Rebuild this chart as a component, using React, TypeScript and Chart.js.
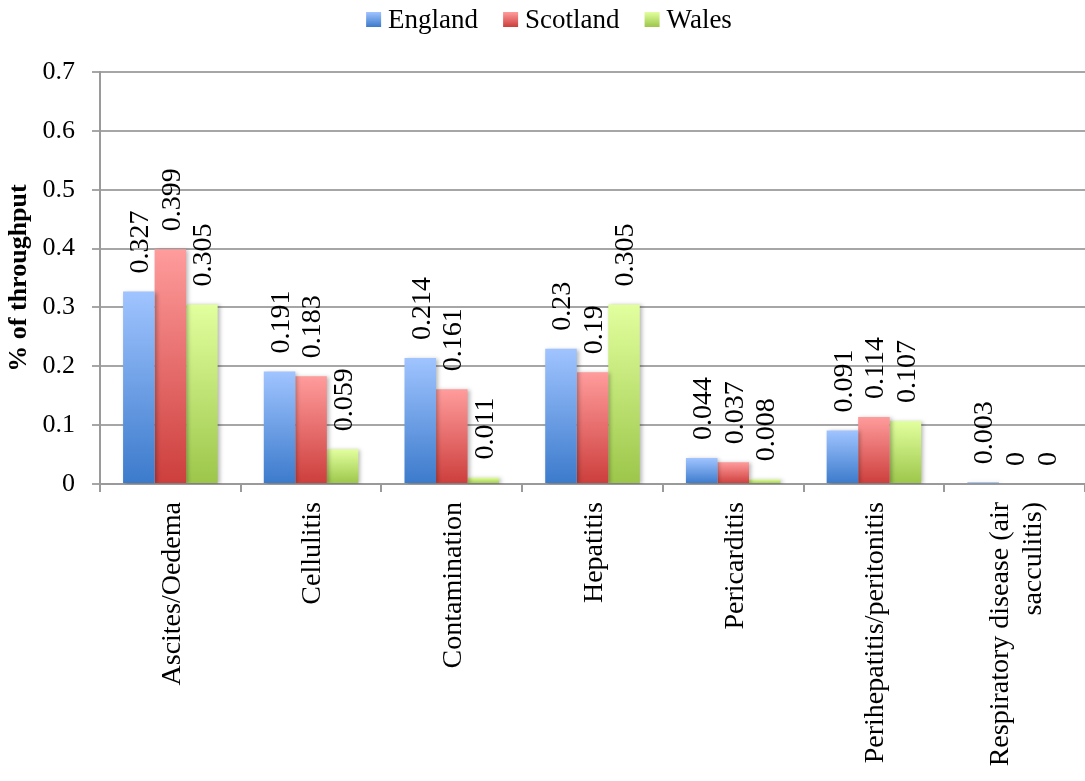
import React, { useEffect, useRef } from "react";
import { Chart, registerables } from "chart.js";

Chart.register(...registerables);

const categoryLines: string[][] = [
  ["Ascites/Oedema"],
  ["Cellulitis"],
  ["Contamination"],
  ["Hepatitis"],
  ["Pericarditis"],
  ["Perihepatitis/peritonitis"],
  ["Respiratory disease (air", "sacculitis)"],
];
const categories = categoryLines.map((l) => l.join(" "));

const seriesNames = ["England", "Scotland", "Wales"];
const england = [0.327, 0.191, 0.214, 0.23, 0.044, 0.091, 0.003];
const scotland = [0.399, 0.183, 0.161, 0.19, 0.037, 0.114, 0];
const wales = [0.305, 0.059, 0.011, 0.305, 0.008, 0.107, 0];
const yTickLabels = ["0", "0.1", "0.2", "0.3", "0.4", "0.5", "0.6", "0.7"];

const gradStops: [string, string][] = [
  ["#a0c4ff", "#3b7acb"],
  ["#ff9c9c", "#cc3e3c"],
  ["#e2ff9e", "#9cc64a"],
];

const FONT = '"Liberation Serif", "Times New Roman", serif';

const makeGrad = (top: string, bottom: string) => (ctx: any) => {
  const chart = ctx.chart;
  if (!chart.chartArea || ctx.type !== "data") return bottom;
  const y = chart.scales.y;
  const v = ctx.raw as number;
  const yTop = y.getPixelForValue(v);
  const yBot = y.getPixelForValue(0);
  if (Math.abs(yBot - yTop) < 1) return bottom;
  const g = chart.ctx.createLinearGradient(0, yTop, 0, yBot);
  g.addColorStop(0, top);
  g.addColorStop(1, bottom);
  return g;
};

const shadowPlugin = {
  id: "barShadow",
  beforeDatasetsDraw(chart: any) {
    const c = chart.ctx;
    c.save();
    c.shadowColor = "rgba(0,0,0,0.28)";
    c.shadowBlur = 4;
    c.shadowOffsetX = 2;
    c.shadowOffsetY = 1;
  },
  afterDatasetsDraw(chart: any) {
    chart.ctx.restore();
  },
};

const textPlugin = {
  id: "texts",
  afterDraw(chart: any) {
    const c = chart.ctx;
    // data labels
    chart.data.datasets.forEach((ds: any, di: number) => {
      const meta = chart.getDatasetMeta(di);
      meta.data.forEach((bar: any, i: number) => {
        const v = ds.data[i];
        c.save();
        c.translate(bar.x + 2, bar.y - 18);
        c.rotate(-Math.PI / 2);
        c.font = `28px ${FONT}`;
        c.textAlign = "left";
        c.textBaseline = "middle";
        c.fillStyle = "#000";
        c.fillText(String(v), 0, 0);
        c.restore();
      });
    });
    // category labels
    const xs = chart.scales.x;
    const top = chart.chartArea.bottom + 18;
    categoryLines.forEach((lines, i) => {
      const x = xs.getPixelForValue(i);
      lines.forEach((line, j) => {
        const off = (j - (lines.length - 1) / 2) * 33;
        c.save();
        c.translate(x + off + 2, top);
        c.rotate(-Math.PI / 2);
        c.font = `28px ${FONT}`;
        c.textAlign = "right";
        c.textBaseline = "middle";
        c.fillStyle = "#000";
        c.fillText(line, 0, 0);
        c.restore();
      });
    });
    // legend
    c.save();
    c.font = `27px ${FONT}`;
    const box = 15;
    const gap = 7;
    const spacing = 25;
    const widths = seriesNames.map((n) => c.measureText(n).width);
    const total =
      widths.reduce((a, b) => a + b, 0) + seriesNames.length * (box + gap) + spacing * (seriesNames.length - 1);
    let x = 549 - total / 2;
    const yc = 19.5;
    seriesNames.forEach((n, k) => {
      const g = c.createLinearGradient(0, yc - box / 2, 0, yc + box / 2);
      g.addColorStop(0, gradStops[k][0]);
      g.addColorStop(1, gradStops[k][1]);
      c.fillStyle = g;
      c.fillRect(x, yc - box / 2, box, box);
      x += box + gap;
      c.fillStyle = "#000";
      c.textAlign = "left";
      c.textBaseline = "middle";
      c.fillText(n, x, yc + 1);
      x += widths[k] + spacing;
    });
    c.restore();
  },
};

export default function App() {
  const ref = useRef<HTMLCanvasElement | null>(null);
  useEffect(() => {
    if (!ref.current) return;
    const seriesData = [england, scotland, wales];
    const chart = new Chart(ref.current, {
      type: "bar",
      data: {
        labels: categories,
        datasets: seriesNames.map((name, k) => ({
          label: name,
          data: seriesData[k],
          backgroundColor: makeGrad(gradStops[k][0], gradStops[k][1]),
          borderWidth: 0,
          categoryPercentage: 0.672,
          barPercentage: 1,
        })),
      },
      options: {
        responsive: false,
        animation: false,
        layout: { padding: { top: 72, right: -5, left: 0, bottom: 0 } },
        plugins: {
          legend: { display: false },
          tooltip: { enabled: false },
        },
        scales: {
          x: {
            grid: {
              drawOnChartArea: false,
              tickLength: 8,
              color: "#9a9a9a",
              lineWidth: 2,
            },
            border: { color: "#9a9a9a", width: 2 },
            ticks: { display: false },
            afterFit: (s: any) => {
              s.height = 297;
            },
          },
          y: {
            min: 0,
            max: 0.7,
            ticks: {
              stepSize: 0.1,
              padding: 17,
              color: "#000",
              font: { family: FONT, size: 26 },
              callback: (_v: any, i: number) => yTickLabels[i],
            },
            grid: { color: "#a6a6a6", lineWidth: 2, tickLength: 8 },
            border: { color: "#9a9a9a", width: 2 },
            title: {
              display: true,
              text: "% of throughput",
              color: "#000",
              font: { family: FONT, size: 26, weight: "bold" },
              padding: { top: 4, bottom: 0 },
            },
            afterFit: (s: any) => {
              s.width = 100;
            },
          },
        },
      },
      plugins: [shadowPlugin, textPlugin],
    });
    return () => chart.destroy();
  }, []);
  return (
    <div style={{ position: "absolute", left: 0, top: 0, width: 1085, height: 781, background: "#fff" }}>
      <canvas ref={ref} width={1085} height={781} style={{ display: "block" }} />
    </div>
  );
}
